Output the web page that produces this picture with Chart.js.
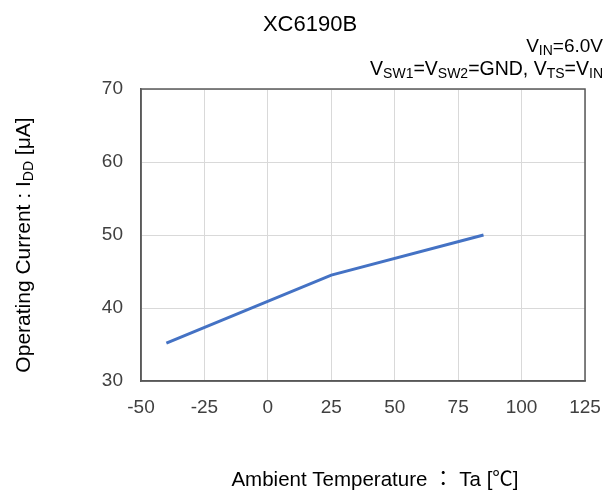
<!DOCTYPE html>
<html>
<head>
<meta charset="utf-8">
<script src="https://cdn.jsdelivr.net/npm/chart.js@4.4.1/dist/chart.umd.min.js"></script>
<style>
  html, body { margin: 0; padding: 0; background: #ffffff; }
  #wrap { width: 611px; height: 492px; }
</style>
</head>
<body>
<div id="wrap"><canvas id="myChart" width="611" height="492"></canvas></div>
<script>
// data
var temps = [-40, 25, 85];
var current = [35.2, 44.5, 50.0];
var xTicks = [-50, -25, 0, 25, 50, 75, 100, 125];
var yTicks = [30, 40, 50, 60, 70];

var points = temps.map(function(t, i) {
    return { x: t, y: current[i] };
});

var FONT = 'Arial, "Liberation Sans", "Noto Sans CJK JP", sans-serif';

// draw text pieces, some as subscript: [[text, isSub], ...]
function richWidth(ctx, parts, size, subSize) {
    var w = 0;
    parts.forEach(function(p) {
        ctx.font = (p[1] ? subSize : size) + 'px ' + FONT;
        w += ctx.measureText(p[0]).width;
    });
    return w;
}

function drawRich(ctx, parts, x, y, size, subSize, align) {
    var w = richWidth(ctx, parts, size, subSize);
    var cx = x;
    if (align === 'right') cx = x - w;
    if (align === 'center') cx = x - w / 2;
    ctx.textAlign = 'left';
    ctx.textBaseline = 'alphabetic';
    parts.forEach(function(p) {
        ctx.font = (p[1] ? subSize : size) + 'px ' + FONT;
        ctx.fillText(p[0], cx, p[1] ? y + 3 : y);
        cx += ctx.measureText(p[0]).width;
    });
}

var textPlugin = {
    id: 'textPlugin',
    afterDraw: function(chart) {
        var ctx = chart.ctx;
        ctx.save();
        ctx.fillStyle = '#000000';

        // title
        drawRich(ctx, [['XC6190B', false]], 310, 31, 22, 22, 'center');

        // conditions, top right
        drawRich(ctx, [['V', false], ['IN', true], ['=6.0V', false]], 603, 52, 19, 14, 'right');
        drawRich(ctx, [
            ['V', false], ['SW1', true], ['=V', false], ['SW2', true],
            ['=GND, V', false], ['TS', true], ['=V', false], ['IN', true]
        ], 603, 75, 19.5, 14, 'right');

        // x axis title
        drawRich(ctx, [['Ambient Temperature ： Ta [℃]', false]], 375, 486, 20.5, 20.5, 'center');

        // y axis title, rotated
        ctx.save();
        ctx.translate(30, 245);
        ctx.rotate(-Math.PI / 2);
        drawRich(ctx, [['Operating Current : I', false], ['DD', true], [' [μA]', false]], 0, 0, 21, 14, 'center');
        ctx.restore();

        ctx.restore();
    }
};

// close the plot frame on top and right
var framePlugin = {
    id: 'frame',
    afterDatasetsDraw: function(c) {
        var a = c.chartArea;
        c.ctx.save();
        c.ctx.strokeStyle = '#595959';
        c.ctx.lineWidth = 1.5;
        c.ctx.strokeRect(a.left, a.top, a.right - a.left, a.bottom - a.top);
        c.ctx.restore();
    }
};

var ctx = document.getElementById('myChart').getContext('2d');
var chart = new Chart(ctx, {
    type: 'scatter',
    data: {
        datasets: [
            {
                label: 'IDD',
                data: points,
                showLine: true,
                borderColor: '#4472C4',
                backgroundColor: '#4472C4',
                borderWidth: 3,
                pointRadius: 0,
                tension: 0
            }
        ]
    },
    options: {
        responsive: false,
        animation: false,
        layout: {
            padding: { top: 89, right: 26, bottom: 0, left: 0 }
        },
        plugins: {
            legend: { display: false },
            tooltip: { enabled: false }
        },
        scales: {
            x: {
                type: 'linear',
                min: xTicks[0],
                max: xTicks[xTicks.length - 1],
                afterBuildTicks: function(scale) {
                    scale.ticks = xTicks.map(function(v) { return { value: v }; });
                },
                afterFit: function(scale) {
                    scale.height = 111;
                    scale.paddingLeft = 0;
                    scale.paddingRight = 0;
                },
                grid: { color: '#d9d9d9', lineWidth: 1, drawTicks: false },
                border: { color: '#595959', width: 1.5 },
                ticks: {
                    color: '#404040',
                    padding: 15,
                    font: { family: FONT, size: 19 }
                }
            },
            y: {
                type: 'linear',
                min: yTicks[0],
                max: yTicks[yTicks.length - 1],
                afterBuildTicks: function(scale) {
                    scale.ticks = yTicks.map(function(v) { return { value: v }; });
                },
                afterFit: function(scale) {
                    scale.width = 141;
                    scale.paddingTop = 0;
                    scale.paddingBottom = 0;
                },
                grid: { color: '#d9d9d9', lineWidth: 1, drawTicks: false },
                border: { color: '#595959', width: 1.5 },
                ticks: {
                    color: '#404040',
                    padding: 18,
                    font: { family: FONT, size: 19 }
                }
            }
        }
    },
    plugins: [textPlugin, framePlugin]
});
</script>
</body>
</html>
